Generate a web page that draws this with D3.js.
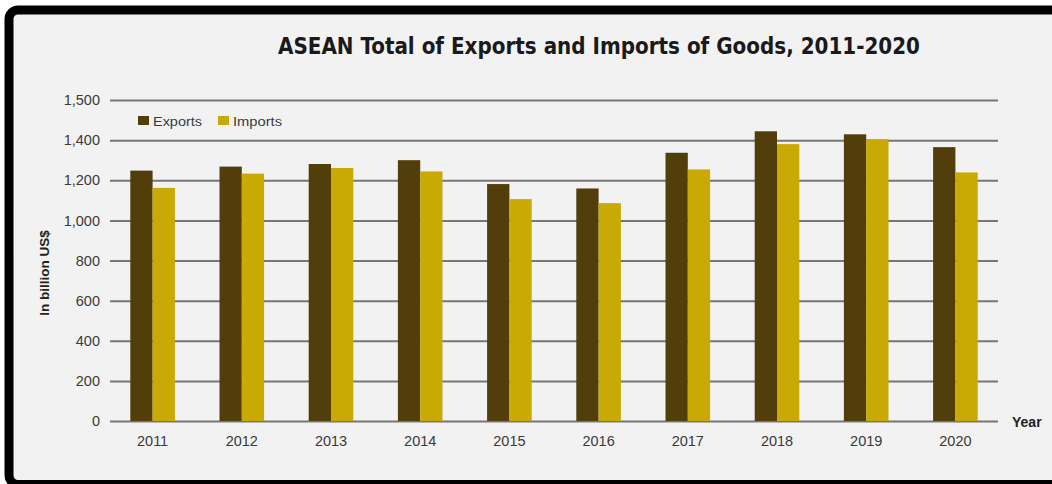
<!DOCTYPE html>
<html>
<head>
<meta charset="utf-8">
<script src="https://cdn.jsdelivr.net/npm/d3@7"></script>
<style>
  html, body { margin: 0; padding: 0; background: #fff; }
  svg { display: block; }
</style>
</head>
<body>
<div id="svgContainer"></div>
<script>
// values (billion US$)
const years = ['2011', '2012', '2013', '2014', '2015', '2016', '2017', '2018', '2019', '2020'];
const exportsVals = [1248, 1268, 1281, 1300, 1181, 1159, 1337, 1444, 1429, 1365];
const importsVals = [1162, 1233, 1261, 1244, 1106, 1086, 1254, 1380, 1405, 1239];
const seriesNames = ['Exports', 'Imports'];
const seriesColors = ['#513e0a', '#c9a904'];
// gridlines are evenly spaced in the original, the top one is labelled 1,500
const yTickValues = [0, 200, 400, 600, 800, 1000, 1200, 1400, 1600];
const yTickLabels = ['0', '200', '400', '600', '800', '1,000', '1,200', '1,400', '1,500'];

const [w, h] = [1052, 484];
const [plotL, plotR, plotT, plotB] = [110, 998, 100, 421];
const labelFont = 'Liberation Sans, Arial, sans-serif';

const svg = d3.select('#svgContainer')
  .append('svg')
  .attr('width', w)
  .attr('height', h);

// frame
svg.append('rect')
  .attr('x', 9).attr('y', 10)
  .attr('width', 1100).attr('height', 474.5)
  .attr('rx', 9)
  .attr('fill', '#f2f2f2')
  .attr('stroke', '#000')
  .attr('stroke-width', 9);

const yScale = d3.scaleLinear().domain([0, 1600]).range([plotB, plotT]);
const x0 = d3.scaleBand().domain(years).range([108, 1000])
  .paddingInner(0.5).paddingOuter(0.25);
const x1 = d3.scaleBand().domain(seriesNames).range([0, x0.bandwidth()]);
const color = d3.scaleOrdinal().domain(seriesNames).range(seriesColors);

// y axis + gridlines
const yAxis = d3.axisLeft(yScale)
  .tickValues(yTickValues)
  .tickFormat((d, i) => yTickLabels[i])
  .tickSize(-(plotR - plotL))
  .tickPadding(10);
const gy = svg.append('g')
  .attr('transform', `translate(${plotL},0)`)
  .call(yAxis);
gy.select('.domain').remove();
gy.selectAll('line').attr('stroke', '#767676').attr('stroke-width', 2);
gy.selectAll('text')
  .attr('fill', '#3a3a3a')
  .style('font-family', labelFont)
  .style('font-size', '14.5px');

// bars
const rows = years.map((y, i) => ({ year: y, values: [exportsVals[i], importsVals[i]] }));
svg.append('g')
  .selectAll('g')
  .data(rows)
  .enter()
  .append('g')
  .attr('transform', d => `translate(${x0(d.year)},0)`)
  .selectAll('rect')
  .data(d => d.values.map((v, j) => ({ key: seriesNames[j], value: v })))
  .enter()
  .append('rect')
  .attr('x', d => x1(d.key))
  .attr('y', d => yScale(d.value))
  .attr('width', x1.bandwidth())
  .attr('height', d => yScale(0) - yScale(d.value))
  .attr('fill', d => color(d.key));

// x axis labels
const xAxis = d3.axisBottom(x0).tickSize(0).tickPadding(15);
const gx = svg.append('g')
  .attr('transform', `translate(0,${plotB})`)
  .call(xAxis);
gx.select('.domain').remove();
gx.selectAll('text')
  .attr('fill', '#3a3a3a')
  .style('font-family', labelFont)
  .style('font-size', '14.5px');

// axis titles
svg.append('text')
  .attr('x', 1012).attr('y', 427)
  .attr('fill', '#222')
  .style('font-family', labelFont)
  .style('font-weight', 'bold')
  .style('font-size', '14px')
  .text('Year');

svg.append('text')
  .attr('transform', 'translate(49,273) rotate(-90)')
  .attr('text-anchor', 'middle')
  .attr('fill', '#222')
  .style('font-family', labelFont)
  .style('font-weight', 'bold')
  .style('font-size', '13.5px')
  .text('In billion US$');

// title
svg.append('text')
  .attr('x', 278).attr('y', 54)
  .attr('fill', '#1a1a1a')
  .attr('textLength', 642)
  .attr('lengthAdjust', 'spacingAndGlyphs')
  .style('font-family', 'Liberation Sans Narrow, DejaVu Sans Condensed, Liberation Sans, sans-serif')
  .style('font-weight', 'bold')
  .style('font-size', '23px')
  .text('ASEAN Total of Exports and Imports of Goods, 2011-2020');

// legend
const legend = svg.append('g')
  .selectAll('g')
  .data(seriesNames)
  .enter()
  .append('g')
  .attr('transform', (d, i) => `translate(${138 + i * 80},116)`);
legend.append('rect')
  .attr('width', 11).attr('height', 9)
  .attr('fill', d => color(d));
legend.append('text')
  .attr('x', 15).attr('y', 9.5)
  .attr('fill', '#3a3a3a')
  .attr('textLength', 49)
  .attr('lengthAdjust', 'spacingAndGlyphs')
  .style('font-family', labelFont)
  .style('font-size', '12px')
  .text(d => d);
</script>
</body>
</html>
